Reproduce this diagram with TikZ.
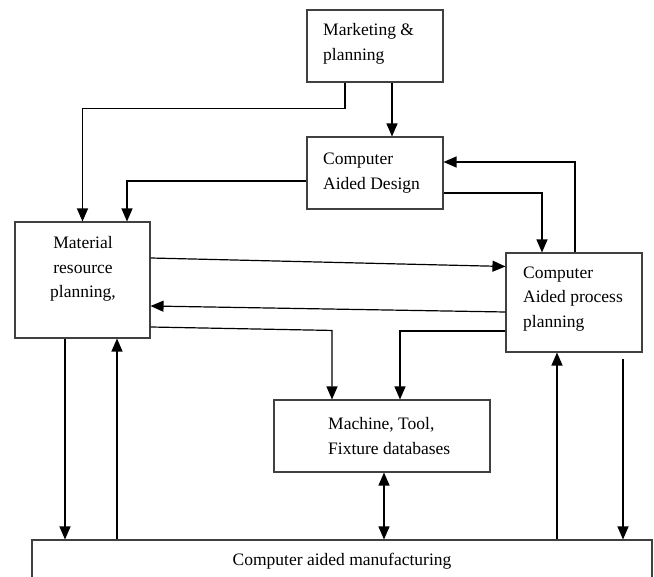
\documentclass[tikz,border=0pt]{standalone}
\usepackage{fontspec}
\setmainfont{Liberation Serif}
\usetikzlibrary{arrows.meta,calc}
\begin{document}
\begin{tikzpicture}[x=1pt,y=-1pt,
  box/.style={draw=black!75,line width=1.1pt,rectangle,inner sep=0pt},
  txt/.style={inner sep=0pt,font=\fontsize{17.5}{24.5}\selectfont},
  ln/.style={draw=black,line width=1.2pt},
  arr/.style={ln,-{Triangle[width=11pt,length=13pt]}},
  darr/.style={ln,{Triangle[width=11pt,length=13pt]}-{Triangle[width=11pt,length=13pt]}}]
\useasboundingbox (0,0) rectangle (654,577);
\clip (0,0) rectangle (654,577);
% boxes
\node[box,minimum width=136pt,minimum height=72pt] (mkt) at (375,46) {};
\node[box,minimum width=136pt,minimum height=72pt] (cad) at (375,173) {};
\node[box,minimum width=135pt,minimum height=116pt] (mrp) at (82.5,280) {};
\node[box,minimum width=136pt,minimum height=99pt] (capp) at (574,302.5) {};
\node[box,minimum width=216pt,minimum height=72pt] (mach) at (382,436) {};
\node[box,minimum width=620pt,minimum height=60pt] (cam) at (342,570) {};
% texts
\node[txt,anchor=west,align=left] (mkttext) at (323,44) {Marketing \&\\planning};
\node[txt,anchor=west,align=left] (cadtext) at (323,173) {Computer\\Aided Design};
\node[txt,align=center] (mrptext) at (83,269) {Material\\resource\\planning,};
\node[txt,anchor=west,align=left] (capptext) at (523,299) {Computer\\Aided process\\planning};
\node[txt,anchor=west,align=left] (machtext) at (328,436) {Machine, Tool,\\Fixture databases};
\node[txt] (camtext) at (342,561) {Computer aided manufacturing};
% connectors
\draw[arr] ($(mkt.south)+(-30,0)$) -- ++(0,26) -| (mrp.north);
\draw[arr] ($(mkt.south)+(17,0)$) -- ($(cad.north)+(17,0)$);
\draw[arr] ($(cad.west)+(0,8)$) -| ($(mrp.north)+(44.5,0)$);
\draw[arr] ($(cad.east)+(0,20)$) -| ($(capp.north)+(-32,0)$);
\draw[arr] ($(capp.north)+(1,0)$) |- ($(cad.east)+(0,-11)$);
\draw[arr] ($(mrp.east)+(0,-22)$) -- ($(capp.west)+(0,-36)$);
\draw[arr] ($(capp.west)+(0,9.5)$) -- ($(mrp.east)+(0,26)$);
\coordinate (bend) at ($(mach.north)+(-50,-69)$);
\draw[arr] ($(mrp.east)+(0,47)$) -- (bend) -- ($(mach.north)+(-50,0)$);
\draw[arr] ($(capp.west)+(0,28.5)$) -| ($(mach.north)+(18,0)$);
\coordinate (m1) at ($(mach.south)+(2,0)$);
\draw[darr] (m1) -- (m1 |- cam.north);
\coordinate (r1) at ($(mrp.south)+(-17.5,0)$);
\draw[arr] (r1) -- (r1 |- cam.north);
\coordinate (r2) at ($(mrp.south)+(34.5,0)$);
\draw[arr] (r2 |- cam.north) -- (r2);
\coordinate (c1) at ($(capp.south)+(-17,0)$);
\draw[arr] (c1 |- cam.north) -- (c1);
\coordinate (c2) at ($(capp.south)+(49,6)$);
\draw[arr] (c2) -- (c2 |- cam.north);
\end{tikzpicture}
\end{document}
